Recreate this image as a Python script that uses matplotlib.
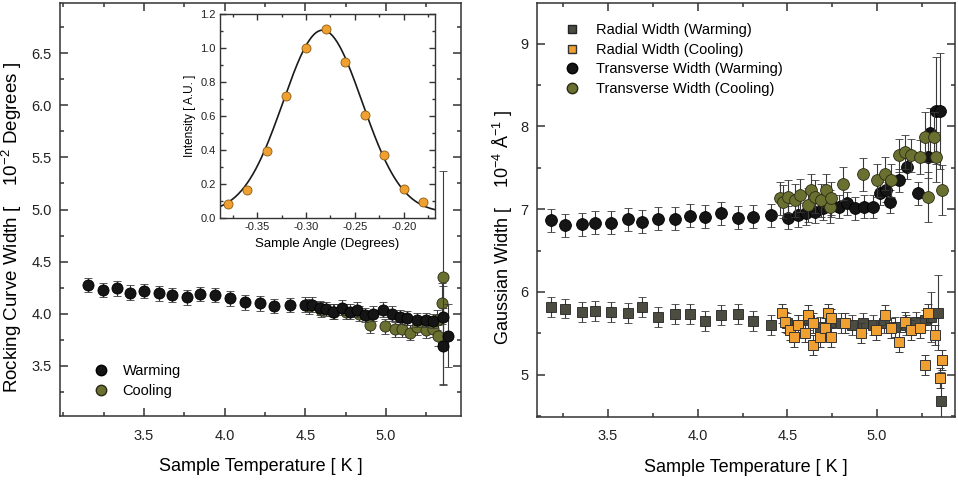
import numpy as np
import matplotlib
matplotlib.use("Agg")
import matplotlib.pyplot as plt
from matplotlib.lines import Line2D
from matplotlib.ticker import MultipleLocator

plt.rcParams['font.family'] = ['Liberation Sans', 'DejaVu Sans']
plt.rcParams['mathtext.fontset'] = 'custom'
plt.rcParams['mathtext.rm'] = 'Liberation Sans'

# ---------------- Left panel: rocking curve width ----------------
rc_warm_T = [3.15, 3.243, 3.33, 3.413, 3.50, 3.593, 3.672, 3.769, 3.848, 3.941, 4.031, 4.127,
             4.22, 4.307, 4.402, 4.498, 4.54, 4.59, 4.63, 4.674, 4.726, 4.777, 4.82, 4.87,
             4.92, 4.98, 5.035, 5.087, 5.13, 5.19, 5.25, 5.29, 5.355, 5.355, 5.386]
rc_warm_W = [4.276, 4.228, 4.244, 4.202, 4.218, 4.196, 4.18, 4.157, 4.189, 4.18, 4.147, 4.109,
             4.10, 4.074, 4.083, 4.087, 4.087, 4.055, 4.045, 4.02, 4.06, 4.02, 4.04, 3.99,
             4.0, 4.04, 4.0, 3.97, 3.96, 3.94, 3.94, 3.93, 3.97, 3.69, 3.79]
rc_warm_E = [0.07] * 32 + [0.3, 0.37, 0.3]

rc_cool_T = [4.52, 4.60, 4.68, 4.75, 4.83, 4.90, 4.995, 5.056, 5.10, 5.15, 5.19, 5.245,
             5.29, 5.315, 5.325, 5.345, 5.355]
rc_cool_W = [4.07, 4.04, 4.02, 4.02, 4.0, 3.89, 3.88, 3.85, 3.85, 3.82, 3.87, 3.84,
             3.85, 3.94, 3.79, 4.10, 4.35]
rc_cool_E = [0.07] * 13 + [0.1, 0.1, 0.2, 1.02]

# ---------------- Inset: rocking curve ----------------
inset_angle = [-0.38, -0.36, -0.34, -0.32, -0.30, -0.28, -0.26, -0.24, -0.22, -0.20, -0.18]
inset_int = [0.084, 0.162, 0.397, 0.718, 0.998, 1.11, 0.918, 0.603, 0.372, 0.170, 0.094]
# Gaussian fit parameters (amplitude, centre, sigma, baseline)
fit_A, fit_mu, fit_sigma, fit_c = 1.075, -0.283, 0.0405, 0.03

# ---------------- Right panel: Gaussian widths ----------------
rad_warm_T = [3.18, 3.262, 3.355, 3.429, 3.519, 3.612, 3.690, 3.779, 3.872, 3.955, 4.039, 4.132,
              4.225, 4.309, 4.411, 4.50, 4.56, 4.62, 4.68, 4.74, 4.80, 4.86, 4.92, 4.98,
              5.04, 5.10, 5.16, 5.22, 5.27, 5.30, 5.34, 5.355]
rad_warm_W = [5.814, 5.80, 5.754, 5.774, 5.762, 5.75, 5.814, 5.70, 5.733, 5.733, 5.653, 5.72,
              5.733, 5.649, 5.60, 5.62, 5.60, 5.66, 5.58, 5.62, 5.63, 5.60, 5.62, 5.60,
              5.62, 5.58, 5.60, 5.64, 5.66, 5.70, 5.75, 4.68]
rad_warm_E = [0.12] * 29 + [0.3, 0.45, 0.35]

rad_cool_T = [4.47, 4.485, 4.513, 4.537, 4.56, 4.60, 4.615, 4.643, 4.643, 4.68, 4.708, 4.727,
              4.745, 4.745, 4.82, 4.913, 4.996, 5.043, 5.08, 5.12, 5.155, 5.19, 5.24, 5.266,
              5.285, 5.322, 5.35, 5.363]
rad_cool_W = [5.74, 5.64, 5.54, 5.46, 5.60, 5.51, 5.72, 5.63, 5.36, 5.46, 5.56, 5.74,
              5.46, 5.68, 5.62, 5.50, 5.54, 5.72, 5.56, 5.40, 5.64, 5.54, 5.56, 5.12,
              5.74, 5.48, 4.96, 5.18]
rad_cool_E = [0.12] * 28

tr_warm_T = [3.18, 3.262, 3.355, 3.429, 3.519, 3.612, 3.690, 3.779, 3.872, 3.955, 4.039, 4.132,
             4.225, 4.309, 4.411, 4.504, 4.56, 4.606, 4.653, 4.70, 4.746, 4.79, 4.83, 4.878,
             4.93, 4.98, 5.017, 5.05, 5.07, 5.12, 5.17, 5.23, 5.285, 5.296, 5.33, 5.35]
tr_warm_W = [6.867, 6.803, 6.815, 6.835, 6.835, 6.879, 6.847, 6.887, 6.887, 6.92, 6.908, 6.948,
             6.899, 6.908, 6.928, 6.899, 6.93, 6.95, 6.97, 7.01, 7.05, 7.03, 7.07, 7.01,
             7.03, 7.03, 7.19, 7.23, 7.09, 7.35, 7.51, 7.19, 7.63, 7.92, 8.19, 8.19]
tr_warm_E = [0.14] * 32 + [0.25, 0.3, 0.65, 0.7]

tr_cool_T = [4.457, 4.476, 4.504, 4.54, 4.569, 4.615, 4.634, 4.653, 4.69, 4.718, 4.736, 4.745,
             4.81, 4.92, 5.0, 5.045, 5.08, 5.12, 5.155, 5.19, 5.24, 5.27, 5.285, 5.32,
             5.33, 5.36]
tr_cool_W = [7.13, 7.09, 7.15, 7.11, 7.17, 7.05, 7.23, 7.15, 7.11, 7.23, 7.03, 7.13,
             7.31, 7.42, 7.35, 7.43, 7.35, 7.65, 7.69, 7.65, 7.63, 7.87, 7.15, 7.87,
             7.63, 7.23]
tr_cool_E = [0.2] * 21 + [0.3, 0.3, 0.3, 0.3, 0.3]

# ---------------- colours ----------------
C_BLACK = '#151515'
C_OLIVE = '#6a7030'
C_GREY_SQ = '#4c4c40'
C_ORANGE = '#f0a030'
C_ERR = '#3a3a3a'
C_SPINE = '#333333'

fig = plt.figure(figsize=(9.58, 4.83), dpi=100)
fig.patch.set_facecolor('white')


def style_axes(ax, lw=1.1, major=6, minor=3, labsize=10.5, pad=6):
    for s in ax.spines.values():
        s.set_color(C_SPINE)
        s.set_linewidth(lw)
    ax.tick_params(which='both', direction='in', top=True, right=True, colors=C_SPINE,
                   labelcolor='#222222', width=lw)
    ax.tick_params(which='major', length=major, labelsize=labsize, pad=pad)
    ax.tick_params(which='minor', length=minor)


eb_kw = dict(linestyle='none', elinewidth=0.8, capsize=3, capthick=0.8, ecolor=C_ERR)

# Left axes
axL = fig.add_axes([60 / 958, 1 - 416 / 483, 401 / 958, 413 / 483])
axL.errorbar(rc_cool_T, rc_cool_W, yerr=rc_cool_E, fmt='o', ms=8, mfc=C_OLIVE,
             mec='#2a2a15', mew=0.6, zorder=2, **eb_kw)
axL.errorbar(rc_warm_T, rc_warm_W, yerr=rc_warm_E, fmt='o', ms=8, mfc=C_BLACK,
             mec='#000000', mew=0.6, zorder=3, **eb_kw)
axL.set_xlim(2.979, 5.465)
axL.set_ylim(3.02, 6.98)
axL.xaxis.set_minor_locator(MultipleLocator(0.25))
axL.yaxis.set_minor_locator(MultipleLocator(0.25))
axL.set_yticks([3.5, 4.0, 4.5, 5.0, 5.5, 6.0, 6.5])
axL.set_xticks([3.5, 4.0, 4.5, 5.0])
style_axes(axL, pad=9)
axL.tick_params(axis='y', pad=6)
axL.set_xlabel('Sample Temperature [ K ]', fontsize=13, labelpad=11)
axL.set_ylabel('Rocking Curve Width [    10$^{-2}$ Degrees ]', fontsize=13.5)
axL.yaxis.set_label_coords(-0.09, 0.456)
hL = [Line2D([], [], ls='none', marker='o', ms=7.5, mfc=C_BLACK, mec='#000'),
      Line2D([], [], ls='none', marker='o', ms=7.5, mfc=C_OLIVE, mec='#2a2a15')]
axL.legend(hL, ['Warming', 'Cooling'], loc='lower left', bbox_to_anchor=(0.065, 0.03),
           frameon=False, fontsize=10.5, handletextpad=0.9, labelspacing=0.4,
           borderaxespad=0, handlelength=1.2)

# Inset
axI = fig.add_axes([220 / 958, 1 - 218 / 483, 215 / 958, 204 / 483])
xf = np.linspace(-0.39, -0.168, 300)
yf = fit_A * np.exp(-(xf - fit_mu) ** 2 / (2 * fit_sigma ** 2)) + fit_c
axI.plot(xf, yf, color='#1a1a1a', lw=1.2, zorder=2)
axI.plot(inset_angle, inset_int, 'o', ms=6.5, mfc=C_ORANGE, mec='#8a5a10', mew=0.6,
         zorder=3)
axI.set_xlim(-0.388, -0.168)
axI.set_ylim(0.0, 1.2)
axI.set_xticks([-0.35, -0.30, -0.25, -0.20])
axI.set_xticklabels(['-0.35', '-0.30', '-0.25', '-0.20'])
axI.xaxis.set_minor_locator(MultipleLocator(0.025))
axI.set_yticks([0.0, 0.2, 0.4, 0.6, 0.8, 1.0, 1.2])
axI.set_yticklabels(['0.0', '0.2', '0.4', '0.6', '0.8', '1.0', '1.2'])
axI.yaxis.set_minor_locator(MultipleLocator(0.1))
style_axes(axI, lw=1.0, major=4, minor=2, labsize=8, pad=3)
axI.set_xlabel('Sample Angle (Degrees)', fontsize=9.5, labelpad=4)
axI.set_ylabel('Intensity [ A.U. ]', fontsize=8.5, labelpad=3)

# Right axes
axR = fig.add_axes([537 / 958, 1 - 417 / 483, 418 / 958, 414 / 483])
axR.errorbar(rad_warm_T, rad_warm_W, yerr=rad_warm_E, fmt='s', ms=6.5, mfc=C_GREY_SQ,
             mec='#222', mew=0.6, zorder=2, **eb_kw)
axR.errorbar(rad_cool_T, rad_cool_W, yerr=rad_cool_E, fmt='s', ms=6.5, mfc=C_ORANGE,
             mec='#333', mew=0.7, zorder=3, **eb_kw)
axR.errorbar(tr_warm_T, tr_warm_W, yerr=tr_warm_E, fmt='o', ms=8.5, mfc=C_BLACK,
             mec='#000', mew=0.6, zorder=2, **eb_kw)
axR.errorbar(tr_cool_T, tr_cool_W, yerr=tr_cool_E, fmt='o', ms=8.5, mfc=C_OLIVE,
             mec='#2a2a15', mew=0.6, zorder=3, **eb_kw)
axR.set_xlim(3.104, 5.435)
axR.set_ylim(4.49, 9.49)
axR.set_xticks([3.5, 4.0, 4.5, 5.0])
axR.xaxis.set_minor_locator(MultipleLocator(0.25))
axR.set_yticks([5, 6, 7, 8, 9])
axR.yaxis.set_minor_locator(MultipleLocator(0.5))
style_axes(axR, pad=9)
axR.tick_params(axis='y', pad=6)
axR.set_xlabel('Sample Temperature [ K ]', fontsize=13, labelpad=11)
axR.set_ylabel('Gaussian Width [    10$^{-4}$ Å$^{-1}$ ]', fontsize=13)
axR.yaxis.set_label_coords(-0.052, 0.457)
hR = [Line2D([], [], ls='none', marker='s', ms=6, mfc=C_GREY_SQ, mec='#222'),
      Line2D([], [], ls='none', marker='s', ms=6, mfc=C_ORANGE, mec='#333'),
      Line2D([], [], ls='none', marker='o', ms=7.5, mfc=C_BLACK, mec='#000'),
      Line2D([], [], ls='none', marker='o', ms=7.5, mfc=C_OLIVE, mec='#2a2a15')]
axR.legend(hR, ['Radial Width (Warming)', 'Radial Width (Cooling)',
                'Transverse Width (Warming)', 'Transverse Width (Cooling)'],
           loc='upper left', bbox_to_anchor=(0.05, 0.965), frameon=False, fontsize=10.5,
           handletextpad=1.0, labelspacing=0.38, borderaxespad=0, handlelength=1.2)

fig.savefig('out.png', dpi=100, facecolor='white')
